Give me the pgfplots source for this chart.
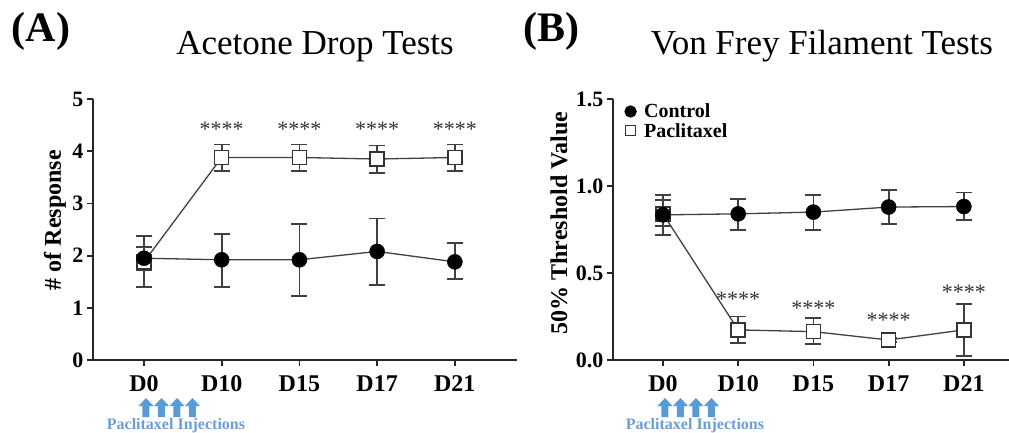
\documentclass[border=0pt]{standalone}
\usepackage{fontspec}
\setmainfont{Liberation Serif}
\usepackage{pgfplots}
\pgfplotsset{compat=1.18}

\definecolor{injblue}{HTML}{5B9BD5}
\definecolor{injtext}{HTML}{6A9ED6}

\pgfplotsset{
  panel/.style={
    scale only axis, axis lines*=left, height=261pt,
    axis line style={line width=1.8pt, black!85},
    tick style={line width=1.8pt, black!85},
    major tick length=6pt, tick align=outside,
    xtick={0,1,2,3,4}, xticklabels={D0,D10,D15,D17,D21},
    ticklabel style={font=\fontsize{22}{24}\selectfont\bfseries},
    xticklabel style={yshift=-6pt, font=\fontsize{24}{26}\selectfont\bfseries},
    /pgf/number format/assume math mode=true,
    label style={font=\fontsize{24}{26}\selectfont\bfseries},
    clip=false,
    every axis plot/.append style={line width=1.3pt, draw=black!75},
    error bars/y dir=both, error bars/y explicit,
    error bars/error bar style={line width=1.8pt, black!75},
    error bars/error mark options={line width=1.8pt, black!75, mark size=8pt, rotate=90},
  },
  ctrl/.style={mark=*, mark size=7.5pt, mark options={fill=black, draw=black, line width=0.5pt}},
  pacl/.style={mark=square*, mark size=7pt, mark options={fill=white, draw=black!80, line width=1.6pt}},
}
\tikzset{stars/.style={font=\fontsize{22}{22}\selectfont, text=black!80}}

\begin{document}
\begin{tikzpicture}
\useasboundingbox (0,0) rectangle (1009pt,432pt);

% (A) acetone drop
\begin{axis}[panel, at={(93pt,72pt)}, anchor=south west, width=424pt,
  xmin=-0.656, xmax=4.80, ymin=0, ymax=5, ytick={0,1,2,3,4,5},
  ylabel={\# of Response}, ylabel style={at={(-38pt,0.536)}, anchor=center}]
\addplot[pacl] coordinates {
  (0,1.88) += (0,0.29) -= (0,0.16)
  (1,3.88) += (0,0.25) -= (0,0.26)
  (2,3.88) += (0,0.25) -= (0,0.26)
  (3,3.85) += (0,0.26) -= (0,0.26)
  (4,3.88) += (0,0.25) -= (0,0.26)};
\addplot[ctrl] coordinates {
  (0,1.95) += (0,0.43) -= (0,0.55)
  (1,1.92) += (0,0.49) -= (0,0.52)
  (2,1.92) += (0,0.68) -= (0,0.69)
  (3,2.08) += (0,0.63) -= (0,0.65)
  (4,1.88) += (0,0.36) -= (0,0.33)};
\node[stars] at (axis cs:1,4.42) {****};
\node[stars] at (axis cs:2,4.42) {****};
\node[stars] at (axis cs:3,4.42) {****};
\node[stars] at (axis cs:4,4.42) {****};
\coordinate (a0) at (axis cs:0,0);
\end{axis}

% (B) von frey
\begin{axis}[panel, at={(613pt,72pt)}, anchor=south west, width=396pt,
  xmin=-0.664, xmax=4.60, ymin=0, ymax=1.5, ytick={0,0.5,1,1.5},
  yticklabel style={/pgf/number format/.cd, fixed, fixed zerofill, precision=1},
  ylabel={50\% Threshold Value}, ylabel style={at={(-54pt,0.525)}, anchor=center},
  legend style={at={(0.03,0.99)}, anchor=north west, draw=none, fill=none,
    inner sep=0pt, font=\fontsize{20}{21}\selectfont\bfseries,
    row sep=0pt, column sep=6pt},
  legend cell align=left]
\addlegendimage{only marks, mark=*, mark size=5.5pt, mark options={fill=black, draw=black}}
\addlegendentry{Control}
\addlegendimage{only marks, mark=square*, mark size=5pt, mark options={fill=white, draw=black!80, line width=1.2pt}}
\addlegendentry{Paclitaxel}
\addplot[pacl, forget plot] coordinates {
  (0,0.84) += (0,0.08) -= (0,0.07)
  (1,0.173) += (0,0.077) -= (0,0.073)
  (2,0.163) += (0,0.077) -= (0,0.073)
  (3,0.115) += (0,0.01) -= (0,0.01)
  (4,0.173) += (0,0.149) -= (0,0.148)};
\addplot[ctrl, forget plot] coordinates {
  (0,0.834) += (0,0.116) -= (0,0.114)
  (1,0.84) += (0,0.087) -= (0,0.092)
  (2,0.85) += (0,0.10) -= (0,0.102)
  (3,0.879) += (0,0.099) -= (0,0.096)
  (4,0.882) += (0,0.081) -= (0,0.076)};
\node[stars] at (axis cs:1,0.35) {****};
\node[stars] at (axis cs:2,0.297) {****};
\node[stars] at (axis cs:3,0.23) {****};
\node[stars] at (axis cs:4,0.39) {****};
\coordinate (b0) at (axis cs:0,0);
\end{axis}

% injection arrows under D0
\foreach \c in {a0,b0} {
  \foreach \dx in {2,17.5,33,48.5} {
    \fill[injblue] ([xshift=\dx pt]\c) ++(-3.5pt,-57pt) -- ++(7pt,0) -- ++(0,11pt)
      -- ++(4pt,0) -- ++(-7.5pt,8pt) -- ++(-7.5pt,-8pt) -- ++(4pt,0) -- cycle;
  }
  \node[font=\fontsize{16}{16}\selectfont\bfseries, text=injtext]
    at ([xshift=32pt,yshift=-66pt]\c) {Paclitaxel Injections};
}

% panel letters and titles
\node[font=\fontsize{42}{42}\selectfont\bfseries] at (41pt,401pt) {(A)};
\node[font=\fontsize{42}{42}\selectfont\bfseries] at (551pt,401pt) {(B)};
\node[font=\fontsize{35}{35}\selectfont, anchor=base] at (315pt,377pt) {Acetone Drop Tests};
\node[font=\fontsize{35}{35}\selectfont, anchor=base] at (822pt,377pt) {Von Frey Filament Tests};
\end{tikzpicture}
\end{document}
